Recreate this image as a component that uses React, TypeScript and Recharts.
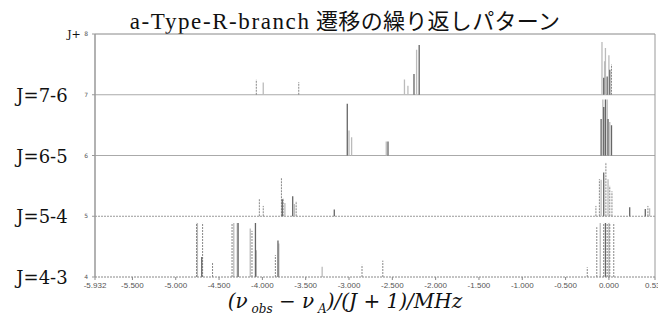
import { ComposedChart, Line, XAxis, YAxis, ReferenceLine } from 'recharts';

// tick values along the frequency axis
const xTicks = [-5.932, -5.5, -5.0, -4.5, -4.0, -3.5, -3.0, -2.5, -2.0, -1.5, -1.0, -0.5, 0.0, 0.532];
const yTicks = [4, 5, 6, 7, 8];
const yBandLabels: Record<number, string> = { 4: 'J=4-3', 5: 'J=5-4', 6: 'J=6-5', 7: 'J=7-6', 8: 'J+' };

// stick positions (MHz), stick tops (y value), stick style: d = dark, l = light, s = dashed
const j76Freq = [-4.07, -3.99, -3.58, -2.36, -2.32, -2.25, -2.22, -2.19, -0.08, -0.06, -0.05, -0.04, -0.02, 0.0, 0.01, 0.03];
const j76Top = [7.25, 7.2, 7.21, 7.25, 7.15, 7.34, 7.74, 7.82, 7.87, 7.28, 7.55, 7.77, 7.3, 7.65, 7.41, 7.5];
const j76Kind = ['s', 'l', 's', 'l', 'l', 'd', 'l', 'd', 'l', 'd', 'l', 'l', 'd', 'l', 'd', 's'];

const j65Freq = [-3.02, -3.0, -2.97, -2.57, -2.55, -0.09, -0.07, -0.06, -0.04, -0.02, -0.01, 0.01, 0.03];
const j65Top = [6.85, 6.41, 6.3, 6.23, 6.23, 6.6, 6.92, 6.8, 6.92, 6.92, 6.6, 6.55, 6.5];
const j65Kind = ['d', 'l', 'l', 'l', 'd', 'd', 'l', 'd', 'd', 'l', 'd', 'l', 'd'];

const j54Freq = [-4.035, -3.99, -3.78, -3.77, -3.76, -3.74, -3.65, -3.63, -3.61, -3.17, -0.15, -0.11, -0.09, -0.06, -0.035, -0.01, 0.01, 0.035, 0.24, 0.42, 0.45, 0.47];
const j54Top = [5.28, 5.17, 5.64, 5.28, 5.3, 5.22, 5.33, 5.2, 5.25, 5.11, 5.17, 5.61, 5.6, 5.72, 5.89, 5.61, 5.5, 5.41, 5.15, 5.12, 5.17, 5.13];
const j54Kind = ['s', 's', 's', 'd', 's', 'l', 'd', 'l', 's', 'd', 's', 's', 'l', 'd', 's', 'l', 's', 's', 'd', 'd', 's', 'l'];

const j43Freq = [-4.76, -4.75, -4.7, -4.69, -4.575, -4.35, -4.33, -4.29, -4.28, -4.14, -4.12, -4.08, -4.07, -3.85, -3.82, -3.81, -3.31, -2.85, -2.61, -0.25, -0.14, -0.1, -0.06, -0.04, -0.02, 0.0, 0.01, 0.056];
const j43Top = [4.89, 4.89, 4.33, 4.89, 4.23, 4.89, 4.89, 4.89, 4.89, 4.8, 4.76, 4.89, 4.44, 4.36, 4.6, 4.55, 4.17, 4.2, 4.27, 4.16, 4.82, 4.89, 4.89, 4.89, 4.89, 4.89, 4.89, 4.89];
const j43Kind = ['s', 'l', 'd', 's', 's', 's', 'l', 'l', 'd', 'l', 's', 'd', 'l', 's', 'd', 'l', 'l', 's', 's', 's', 's', 'l', 's', 'd', 's', 'l', 's', 's'];

const bands = [
  { base: 7, freq: j76Freq, top: j76Top, kind: j76Kind },
  { base: 6, freq: j65Freq, top: j65Top, kind: j65Kind },
  { base: 5, freq: j54Freq, top: j54Top, kind: j54Kind },
  { base: 4, freq: j43Freq, top: j43Top, kind: j43Kind },
];

// vertical sticks as segments separated by nulls
function sticks(kind: string) {
  const pts: { x: number; y: number | null }[] = [];
  bands.forEach((b) => {
    b.freq.forEach((f, i) => {
      if (b.kind[i] !== kind) return;
      pts.push({ x: f, y: b.base }, { x: f, y: b.top[i] }, { x: f, y: null });
    });
  });
  return pts;
}

const darkData = sticks('d');
const lightData = sticks('l');
const dashData = sticks('s');

function YTick(props: any) {
  const { x, y, payload } = props;
  const v = payload.value;
  const big = v !== 8;
  return (
    <g>
      <text x={x - 2} y={y + 2} textAnchor="end" fontSize={6} fill="#555" fontFamily="DejaVu Sans">
        {v}
      </text>
      <text
        x={big ? 42 : 74}
        y={big ? y + 7 : y + 4}
        textAnchor="middle"
        fontSize={big ? 18 : 11}
        fill="#111"
        fontFamily="'DejaVu Serif', serif"
      >
        {yBandLabels[v]}
      </text>
    </g>
  );
}

export default function App() {
  return (
    <div style={{ position: 'absolute', left: 0, top: 0, width: 658, height: 322, background: '#fff' }}>
      <div
        style={{
          position: 'absolute',
          left: 0,
          top: 3,
          width: 690,
          textAlign: 'center',
          fontFamily: "'Liberation Serif', 'Noto Sans CJK JP', serif",
          fontSize: 22,
          color: '#111',
          whiteSpace: 'nowrap',
        }}
      >
        <span style={{ fontSize: 23, letterSpacing: 1.6 }}>a-Type-R-branch</span>{' '}
        <span style={{ letterSpacing: 0.3 }}>遷移の繰り返しパターン</span>
      </div>
      <ComposedChart width={658} height={322} margin={{ top: 34, right: 3, bottom: 0, left: 0 }}>
        <XAxis
          dataKey="x"
          type="number"
          domain={[-5.932, 0.532]}
          ticks={xTicks}
          tickFormatter={(v: number) => v.toFixed(3)}
          allowDataOverflow
          height={45}
          interval={0}
          tick={{ fontSize: 8, fill: '#555', fontFamily: "'Liberation Sans', sans-serif" }}
          tickSize={3}
          axisLine={{ stroke: '#888', strokeDasharray: '2 1' }}
          tickLine={{ stroke: '#888' }}
        />
        <YAxis
          type="number"
          domain={[4, 8]}
          ticks={yTicks}
          width={95}
          tick={<YTick />}
          tickSize={3}
          axisLine={{ stroke: '#999', strokeWidth: 1.5 }}
          tickLine={{ stroke: '#999' }}
        />
        <ReferenceLine y={8} stroke="#888" />
        <ReferenceLine y={7} stroke="#aaa" />
        <ReferenceLine y={6} stroke="#aaa" />
        <ReferenceLine y={5} stroke="#999" strokeDasharray="2 1" />
        <ReferenceLine x={0.532} stroke="#999" />
        <Line data={lightData} dataKey="y" stroke="#bbb" strokeWidth={1.3} dot={false} connectNulls={false} isAnimationActive={false} />
        <Line data={dashData} dataKey="y" stroke="#888" strokeWidth={1} strokeDasharray="2 1" dot={false} connectNulls={false} isAnimationActive={false} />
        <Line data={darkData} dataKey="y" stroke="#666" strokeWidth={1.3} dot={false} connectNulls={false} isAnimationActive={false} />
      </ComposedChart>
      <div
        style={{
          position: 'absolute',
          left: 0,
          top: 289,
          width: 690,
          textAlign: 'center',
          fontFamily: "'DejaVu Serif', serif",
          fontSize: 20,
          fontStyle: 'italic',
          color: '#111',
          whiteSpace: 'nowrap',
        }}
      >
        (ν<sub style={{ fontSize: 12 }}> obs</sub> − ν<sub style={{ fontSize: 12 }}> A</sub>)/(J + 1)/MHz
      </div>
    </div>
  );
}
